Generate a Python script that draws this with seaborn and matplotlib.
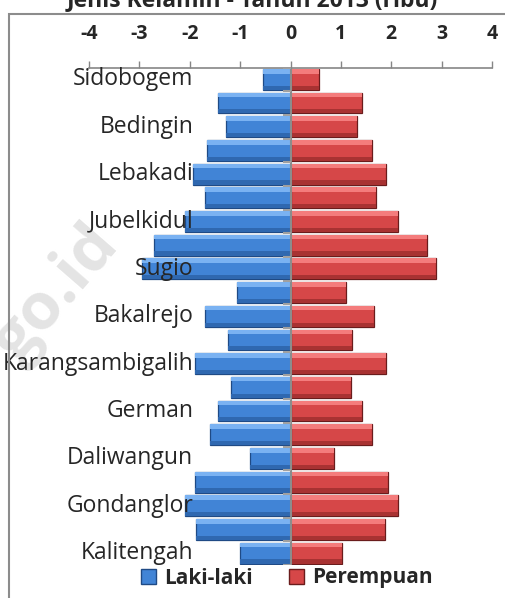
import numpy as np
import pandas as pd
import matplotlib
matplotlib.use('Agg')
import matplotlib.pyplot as plt
import matplotlib.transforms as mtransforms
from matplotlib.patches import Rectangle, Patch
import seaborn as sns

# data (ribu jiwa), top row first
labels = ['Sidobogem', '', 'Bedingin', '', 'Lebakadi', '', 'Jubelkidul', '',
          'Sugio', '', 'Bakalrejo', '', 'Karangsambigalih', '', 'German', '',
          'Daliwangun', '', 'Gondanglor', '', 'Kalitengah']
laki = [0.55, 1.43, 1.29, 1.66, 1.94, 1.70, 2.10, 2.70, 2.94, 1.07, 1.70,
        1.25, 1.89, 1.19, 1.43, 1.60, 0.81, 1.89, 2.10, 1.87, 1.01]
perempuan = [0.56, 1.42, 1.32, 1.62, 1.90, 1.70, 2.14, 2.70, 2.88, 1.11, 1.66,
             1.23, 1.90, 1.21, 1.42, 1.62, 0.86, 1.94, 2.14, 1.88, 1.03]
ticks = [-4, -3, -2, -1, 0, 1, 2, 3, 4]
title = 'Jenis Kelamin - Tahun 2013 (ribu)'

rows = np.arange(len(labels))
df = pd.concat([
    pd.DataFrame({'row': rows, 'nilai': -np.array(laki), 'jk': 'Laki-laki'}),
    pd.DataFrame({'row': rows, 'nilai': np.array(perempuan), 'jk': 'Perempuan'}),
])

sns.set_style('white')
plt.rcParams['font.family'] = ['Open Sans', 'DejaVu Sans']

W, H = 505, 598
fig = plt.figure(figsize=(W / 100, H / 100), dpi=100)
ax = fig.add_axes([89 / W, 1 - 565 / H, (492 - 89) / W, (565 - 67.5) / H])
ax.set_zorder(2)
ax.patch.set_alpha(0)

blue = '#4184d6'
red = '#d64748'
sns.barplot(data=df, x='nilai', y='row', hue='jk', orient='h', dodge=False,
            palette={'Laki-laki': blue, 'Perempuan': red}, width=0.88,
            ax=ax, legend=False, saturation=1)

# bevel look: dark edge + light top strip + darker bottom strip
for p in list(ax.patches):
    fc = p.get_facecolor()
    isblue = fc[2] > fc[0]
    dark = '#1f4a85' if isblue else '#6a1c1c'
    light = '#7ab2f2' if isblue else '#f47c7c'
    shade = '#2f68b0' if isblue else '#a83232'
    p.set_edgecolor(dark)
    p.set_linewidth(0.9)
    p.set_zorder(1)
    x0, y0, w, h = p.get_x(), p.get_y(), p.get_width(), p.get_height()
    ax.add_patch(Rectangle((x0, y0), w, h * 0.22, facecolor=light,
                           edgecolor='none', zorder=1.1))
    ax.add_patch(Rectangle((x0, y0 + h * 0.8), w, h * 0.2, facecolor=shade,
                           edgecolor='none', zorder=1.1))

ax.set_xlim(-4, 4)
ax.set_ylim(len(labels) - 0.5, -0.5)
ax.set_xticks(ticks)
ax.set_xticklabels([str(t) for t in ticks], fontsize=14, fontweight='bold')
ax.xaxis.tick_top()
ax.tick_params(axis='x', direction='out', length=5, width=1, color='#868686',
               pad=12, top=True, bottom=False)
ax.set_yticks(rows)
ax.set_yticklabels(labels, fontsize=16.5)
ax.tick_params(axis='y', length=0, pad=-75)
# labels sit a little above the bar centres
up = mtransforms.ScaledTranslation(0, 3 / 100, fig.dpi_scale_trans)
for t in ax.get_yticklabels():
    t.set_transform(t.get_transform() + up)
ax.yaxis.set_zorder(5)
ax.xaxis.set_zorder(5)
ax.set_xlabel('')
ax.set_ylabel('')

for s in ['left', 'right', 'bottom']:
    ax.spines[s].set_visible(False)
ax.spines['top'].set_color('#868686')
ax.spines['top'].set_linewidth(1.2)
ax.axvline(0, color='#8c8c8c', lw=1.5, zorder=3)
bounds = np.arange(-0.5, len(labels) + 0.5)
ax.hlines(bounds, -0.14, 0, color='#a0a0a0', lw=1.5, zorder=3)

# watermark
fig.text(57 / W, 1 - 294 / H, 'go.id', fontsize=47, fontweight='bold',
         color='#e4e4e4', rotation=49, ha='center', va='center', zorder=0,
         rotation_mode='anchor')

# chart frame
fig.patches.append(Rectangle((9 / W, -0.1), 1.2, 1 - 14 / H + 0.1,
                             transform=fig.transFigure, fill=False,
                             edgecolor='#8c8c8c', lw=1.5, zorder=3))

fig.text(0.5, 1 - 6 / H, title, ha='center', va='baseline', fontsize=16.5,
         fontweight='bold')

handles = [Patch(facecolor=blue, edgecolor='#1f4a85', label='Laki-laki'),
           Patch(facecolor=red, edgecolor='#6a1c1c', label='Perempuan')]
fig.legend(handles=handles, loc='center', bbox_to_anchor=(0.568, 1 - 578 / H),
           ncol=2, frameon=False, handlelength=0.75, handleheight=0.75,
           handletextpad=0.4, columnspacing=1.7,
           prop={'weight': 'bold', 'size': 15})

fig.savefig('out.png', dpi=100)
